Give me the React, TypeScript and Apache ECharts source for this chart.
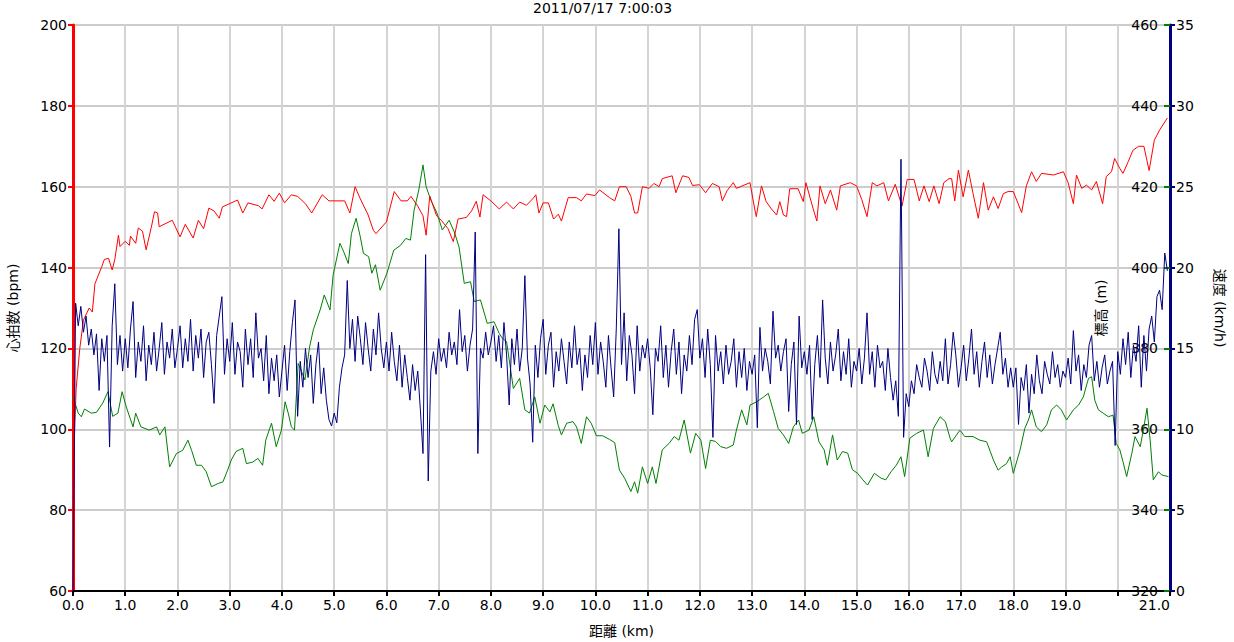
import React, { useEffect, useRef } from "react";
import * as echarts from "echarts";

const title = "2011/07/17 7:00:03";
const xName = "距離 (km)";
const hrName = "心拍数 (bpm)";
const elevName = "標高 (m)";
const speedName = "速度 (km/h)";

// heart rate [km, bpm]
const heartRate: number[][] = [
  [0, 80], [0.02, 95], [0.06, 110], [0.13, 120], [0.2, 127], [0.31, 130], [0.37, 129], [0.42, 136], [0.55, 140.2], [0.6, 142],
  [0.68, 142.3], [0.75, 139.4], [0.8, 142], [0.87, 148], [0.9, 145.2], [1.0, 146.5], [1.08, 145.5], [1.1, 147.8], [1.2, 146], [1.25, 149.8],
  [1.33, 149], [1.4, 144.4], [1.5, 150], [1.56, 153.8], [1.62, 153.5], [1.65, 150.1], [1.9, 151.7], [2.05, 147.6], [2.15, 150.7], [2.3, 147.3],
  [2.4, 151.7], [2.5, 149.6], [2.6, 154.7], [2.7, 154], [2.8, 152.2], [2.86, 155], [3.15, 156.7], [3.25, 153.5], [3.35, 156], [3.55, 155.3],
  [3.62, 154.5], [3.75, 158], [3.85, 156.4], [3.95, 158.4], [4.05, 156], [4.18, 158], [4.3, 157.6], [4.45, 155.8], [4.57, 153.5], [4.77, 158],
  [4.9, 156.5], [5.2, 156.5], [5.3, 153.5], [5.4, 160], [5.5, 157], [5.65, 153], [5.75, 149.2], [5.8, 148.4], [6.0, 151.3], [6.15, 158.8],
  [6.28, 156.5], [6.4, 156.5], [6.47, 157.6], [6.6, 155.2], [6.7, 152.8], [6.76, 148], [6.83, 157.7], [6.96, 152.8], [7.05, 151.7], [7.18, 149.6],
  [7.28, 146.4], [7.37, 152], [7.53, 152.4], [7.63, 154], [7.72, 156.4], [7.79, 152.5], [7.85, 158], [8.0, 156.5], [8.16, 154.5], [8.3, 156.2],
  [8.43, 154.5], [8.55, 156.2], [8.68, 155.4], [8.8, 157], [8.86, 158], [8.92, 153.5], [9.0, 156], [9.1, 156], [9.2, 152], [9.29, 153.2],
  [9.35, 151.5], [9.48, 157.3], [9.64, 157.3], [9.73, 156.5], [9.83, 158.2], [9.99, 157.8], [10.08, 159.2], [10.27, 157.3], [10.37, 156.5], [10.46, 160],
  [10.59, 160], [10.68, 157.6], [10.75, 153.5], [10.81, 153.5], [10.9, 160], [11.03, 159.6], [11.12, 160.8], [11.22, 160], [11.28, 162], [11.47, 162.7],
  [11.54, 158.5], [11.67, 162.7], [11.79, 162.3], [11.86, 160.3], [11.99, 160.5], [12.11, 158.5], [12.24, 160.8], [12.37, 160], [12.43, 156.5], [12.52, 159],
  [12.64, 161], [12.7, 159.6], [12.96, 161], [13.05, 154.5], [13.08, 152.6], [13.18, 160.2], [13.27, 156.3], [13.37, 154.5], [13.47, 153], [13.53, 156.3],
  [13.6, 153], [13.66, 152.6], [13.72, 159.5], [13.88, 159.5], [13.98, 156.3], [14.03, 161], [14.17, 154.5], [14.24, 151.5], [14.3, 160.2], [14.4, 155.8],
  [14.5, 159.2], [14.62, 154.2], [14.69, 160.2], [14.88, 161], [15.0, 160.2], [15.1, 156.8], [15.2, 152.6], [15.3, 161], [15.39, 160.2], [15.52, 161],
  [15.61, 156.5], [15.74, 160.6], [15.87, 155.2], [15.97, 161.8], [16.1, 161.8], [16.2, 156.5], [16.29, 160.2], [16.39, 156.3], [16.48, 160.2], [16.58, 155.8],
  [16.67, 161], [16.77, 162], [16.82, 162], [16.88, 156.5], [16.95, 164.1], [17.04, 157.5], [17.14, 164.1], [17.23, 158.3], [17.33, 152.2], [17.43, 161],
  [17.52, 154.2], [17.62, 157.5], [17.71, 154.6], [17.81, 158.3], [17.9, 158.8], [18.0, 158.8], [18.16, 153.6], [18.25, 160.2], [18.35, 163.7], [18.44, 161.3],
  [18.54, 163.3], [18.77, 162.9], [18.96, 163.7], [19.05, 161], [19.15, 155.8], [19.21, 162.9], [19.31, 159.6], [19.4, 160.4], [19.5, 159.2], [19.59, 161.3],
  [19.71, 155.8], [19.78, 162.5], [19.88, 163.7], [19.94, 167], [20.04, 164.5], [20.1, 163.3], [20.2, 166.2], [20.29, 169], [20.4, 170], [20.5, 170],
  [20.6, 164], [20.7, 171.5], [20.8, 174], [20.9, 176], [20.95, 177],
];

// elevation [km, m]
const elevation: number[][] = [
  [0, 368], [0.1, 364], [0.16, 363.1], [0.22, 365], [0.35, 364], [0.45, 364.2], [0.57, 366.5], [0.67, 369.3], [0.76, 363.2], [0.86, 364],
  [0.94, 369.3], [1.02, 365.5], [1.15, 360.6], [1.2, 364], [1.3, 360.6], [1.46, 359.8], [1.6, 360.6], [1.66, 358.6], [1.76, 360.6], [1.85, 350.7],
  [1.98, 354], [2.1, 354.8], [2.2, 357.3], [2.27, 354.8], [2.36, 351.1], [2.46, 351.1], [2.55, 349.5], [2.65, 345.8], [2.78, 346.6], [2.87, 347],
  [2.96, 349.9], [3.03, 352.4], [3.12, 354.5], [3.25, 355.3], [3.32, 351.5], [3.44, 351.9], [3.54, 352.8], [3.63, 351.1], [3.69, 357.3], [3.8, 361.5],
  [3.89, 355.7], [3.99, 359.8], [4.06, 366.8], [4.12, 364], [4.18, 360.6], [4.24, 359.8], [4.31, 376.3], [4.44, 372.2], [4.53, 380.4], [4.6, 384.6],
  [4.73, 389.5], [4.81, 393.2], [4.92, 389.5], [4.98, 398.2], [5.11, 406], [5.17, 404.3], [5.27, 401], [5.33, 408.4], [5.42, 412.2], [5.5, 407.6],
  [5.56, 403.5], [5.66, 402.7], [5.72, 398.6], [5.79, 400.7], [5.88, 394.4], [6.01, 398.6], [6.14, 404.3], [6.27, 405.5], [6.37, 407.2], [6.46, 406.8],
  [6.53, 414.2], [6.62, 419.2], [6.7, 425.4], [6.76, 420], [6.85, 416.7], [6.97, 413.4], [7.07, 409.3], [7.2, 411.7], [7.3, 408.8], [7.39, 405.1],
  [7.49, 396.1], [7.61, 396.5], [7.68, 391.6], [7.8, 392], [7.93, 386.2], [8.06, 386.6], [8.16, 383.7], [8.22, 382.5], [8.3, 381.7], [8.36, 376.3],
  [8.43, 370.1], [8.55, 372.6], [8.65, 364.8], [8.74, 364], [8.84, 368], [8.94, 361.5], [9.03, 366], [9.13, 364.3], [9.19, 366.3], [9.29, 360.9],
  [9.35, 358.6], [9.45, 361.5], [9.57, 361.9], [9.64, 360.6], [9.73, 356.5], [9.83, 363.1], [9.92, 361.5], [10.02, 358.4], [10.14, 358.4], [10.27, 357.5],
  [10.37, 356.7], [10.46, 349.9], [10.56, 347.9], [10.68, 344.6], [10.75, 347], [10.81, 344.2], [10.9, 350.7], [11.0, 346.6], [11.09, 350.7], [11.16, 346.6],
  [11.28, 354.9], [11.41, 356.5], [11.51, 358.2], [11.6, 357.3], [11.7, 362.3], [11.82, 354.1], [11.92, 359], [12.02, 357.3], [12.11, 350.3], [12.2, 357.3],
  [12.3, 357], [12.4, 355.7], [12.51, 355.3], [12.64, 356.1], [12.7, 359.8], [12.8, 364.8], [12.9, 361.1], [12.96, 366], [13.09, 366.8], [13.22, 368],
  [13.31, 368.9], [13.41, 364.4], [13.5, 360.2], [13.6, 358.6], [13.7, 356.5], [13.79, 360.6], [13.89, 362.3], [13.96, 359], [14.09, 359.8], [14.18, 363.1],
  [14.28, 356.9], [14.38, 354.9], [14.44, 351.1], [14.54, 358.6], [14.63, 352.4], [14.73, 354.5], [14.83, 354.1], [14.92, 350], [15.02, 349.1], [15.12, 347.5],
  [15.21, 346.2], [15.34, 349.1], [15.47, 347.9], [15.56, 347.5], [15.66, 349.5], [15.76, 351.1], [15.85, 353.2], [15.92, 348.3], [16.02, 357.8], [16.15, 359],
  [16.28, 359.8], [16.37, 353.2], [16.47, 360.2], [16.6, 363.1], [16.7, 361.9], [16.79, 357.8], [16.82, 356.9], [16.98, 359.8], [17.07, 358.2], [17.23, 358.2],
  [17.36, 357.3], [17.49, 356.9], [17.62, 352.4], [17.71, 349.9], [17.78, 350.7], [17.87, 351.5], [17.94, 353.2], [18.0, 349.1], [18.13, 354.9], [18.22, 360.2],
  [18.29, 362.3], [18.35, 364.8], [18.44, 360.6], [18.54, 359.4], [18.64, 361.1], [18.73, 364.8], [18.83, 366], [18.92, 364.8], [19.02, 362.3], [19.15, 364.8],
  [19.25, 366], [19.34, 368], [19.44, 372.6], [19.5, 373], [19.56, 367.2], [19.63, 364.8], [19.72, 364], [19.82, 363.1], [19.91, 363.5], [19.97, 356.5],
  [20.04, 354.9], [20.1, 352], [20.17, 348.3], [20.27, 354.1], [20.33, 358.2], [20.43, 355.7], [20.49, 359.8], [20.56, 365.2], [20.62, 357.3], [20.68, 347.5],
  [20.78, 349.5], [20.84, 348.7], [20.97, 348.3],
];

// speed (km/h), sampled every 50 m, one row per km
const speedStepKm = 0.05;
const speedKm00 = [0, 17.8, 16.4, 17.6, 16.0, 17.0, 15.2, 16.2, 14.6, 15.9, 12.4, 15.6, 14.2, 15.8, 8.9, 16.4, 19.0, 14.0, 15.8, 13.6];
const speedKm01 = [15.6, 13.8, 16.2, 17.9, 13.2, 15.4, 14.2, 16.4, 13.0, 15.2, 14.0, 16.0, 13.6, 15.0, 16.6, 13.4, 15.4, 14.4, 16.2, 13.8];
const speedKm02 = [15.0, 16.4, 13.8, 15.6, 14.2, 16.8, 13.6, 15.8, 14.4, 16.2, 13.2, 15.4, 16.0, 14.0, 11.6, 15.8, 17.0, 18.2, 13.4, 15.6];
const speedKm03 = [14.2, 16.6, 13.4, 15.4, 14.8, 12.6, 16.2, 14.0, 15.6, 13.2, 17.2, 14.4, 15.0, 13.0, 15.8, 12.2, 14.4, 13.0, 14.6, 12.0];
const speedKm04 = [13.6, 15.2, 12.4, 14.8, 16.6, 18.0, 10.8, 14.2, 12.6, 15.0, 13.2, 14.6, 11.6, 14.0, 15.4, 12.2, 13.8, 11.8, 10.6, 10.2];
const speedKm05 = [11.0, 10.4, 12.6, 13.8, 14.6, 19.2, 15.0, 16.8, 14.2, 17.0, 15.6, 14.0, 16.6, 15.0, 13.6, 16.2, 14.6, 17.2, 15.0, 13.8];
const speedKm06 = [15.4, 13.6, 16.0, 14.2, 13.0, 15.2, 12.6, 14.6, 13.2, 11.8, 14.0, 12.4, 13.6, 11.2, 8.5, 20.8, 6.8, 13.6, 14.8, 13.4];
const speedKm07 = [15.6, 14.2, 15.0, 13.8, 16.0, 14.6, 15.4, 14.0, 17.4, 14.8, 15.8, 13.6, 15.2, 16.2, 22.2, 8.5, 15.0, 14.4, 16.0, 14.6];
const speedKm08 = [15.4, 16.4, 14.2, 15.8, 13.8, 16.6, 14.6, 11.5, 15.6, 14.0, 16.2, 13.6, 15.0, 19.5, 14.4, 12.8, 9.2, 15.2, 13.2, 15.6];
const speedKm09 = [16.8, 13.4, 15.2, 16.0, 12.6, 14.8, 13.6, 15.6, 14.2, 12.8, 15.4, 13.8, 16.4, 14.0, 15.0, 12.4, 14.6, 13.2, 15.8, 14.0];
const speedKm10 = [16.6, 13.4, 15.4, 14.2, 12.6, 15.8, 13.8, 12.0, 16.2, 22.4, 14.0, 17.2, 13.0, 15.8, 14.6, 12.2, 16.4, 13.6, 15.2, 14.4];
const speedKm11 = [15.6, 13.8, 10.9, 15.0, 14.2, 16.4, 13.2, 15.2, 12.6, 14.8, 16.2, 13.4, 15.4, 12.2, 14.6, 13.6, 15.8, 14.0, 16.8, 17.4];
const speedKm12 = [14.4, 15.6, 13.2, 16.2, 14.0, 9.5, 15.8, 13.6, 14.8, 12.8, 15.2, 13.4, 14.2, 15.6, 12.6, 14.8, 13.2, 15.0, 12.4, 14.2];
const speedKm13 = [13.4, 14.6, 10.1, 16.3, 13.6, 15.0, 14.2, 12.8, 17.3, 14.4, 15.2, 13.6, 14.8, 15.6, 11.1, 14.0, 15.4, 10.3, 17.0, 13.8];
const speedKm14 = [14.8, 13.4, 15.2, 10.6, 14.0, 15.8, 13.2, 18.0, 14.4, 12.8, 15.4, 13.6, 14.6, 16.2, 13.0, 14.8, 13.4, 15.6, 12.6, 14.2];
const speedKm15 = [13.6, 15.0, 12.8, 14.4, 17.2, 13.4, 14.8, 12.6, 15.2, 13.8, 14.2, 12.4, 15.0, 13.2, 11.8, 13.0, 10.8, 26.7, 9.5, 12.2];
const speedKm16 = [11.4, 13.0, 12.2, 14.0, 13.2, 12.6, 14.4, 13.6, 12.4, 14.8, 13.4, 12.8, 14.2, 13.0, 15.6, 12.8, 14.0, 16.0, 14.6, 12.6];
const speedKm17 = [13.8, 15.2, 13.0, 14.4, 16.2, 13.4, 14.8, 12.6, 14.2, 15.4, 13.2, 14.6, 12.8, 14.0, 15.0, 16.0, 13.4, 14.4, 12.6, 13.8];
const speedKm18 = [12.6, 13.8, 10.3, 13.2, 12.4, 14.0, 11.0, 13.4, 12.2, 14.6, 13.0, 12.2, 14.2, 13.4, 12.8, 14.8, 13.2, 14.0, 12.6, 13.6];
const speedKm19 = [13.2, 14.4, 12.8, 16.1, 13.6, 14.6, 12.4, 14.0, 13.2, 15.2, 15.8, 13.0, 14.2, 12.6, 13.8, 14.6, 12.8, 13.6, 14.2, 9.0];
const speedKm20 = [14.8, 13.4, 15.6, 14.0, 16.0, 13.2, 15.2, 14.2, 16.4, 12.6, 15.8, 13.6, 16.2, 17.0, 15.4, 18.2, 18.6, 17.4, 20.9, 19.8];

const speedValues = [
  ...speedKm00, ...speedKm01, ...speedKm02, ...speedKm03, ...speedKm04, ...speedKm05, ...speedKm06,
  ...speedKm07, ...speedKm08, ...speedKm09, ...speedKm10, ...speedKm11, ...speedKm12, ...speedKm13,
  ...speedKm14, ...speedKm15, ...speedKm16, ...speedKm17, ...speedKm18, ...speedKm19, ...speedKm20,
];

const FONT = "'DejaVu Sans', 'Noto Sans CJK JP', sans-serif";

export default function App() {
  const ref = useRef<HTMLDivElement>(null);
  useEffect(() => {
    if (!ref.current) return;
    const chart = echarts.init(ref.current, undefined, { renderer: "svg" });
    const speedData = speedValues.map((v, i) => [+(i * speedStepKm).toFixed(2), v]);
    const labelStyle = { color: "#000", fontSize: 14, fontFamily: FONT };
    chart.setOption({
      animation: false,
      backgroundColor: "#fff",
      textStyle: { fontFamily: FONT },
      title: {
        text: title,
        left: 533,
        top: 0,
        padding: [1, 0, 0, 0],
        textStyle: { fontSize: 14, fontWeight: "normal", color: "#000", fontFamily: FONT },
      },
      grid: { left: 73, right: 64, top: 25, bottom: 51, containLabel: false, outerBoundsMode: "none" },
      xAxis: {
        type: "value",
        min: 0,
        max: 21,
        interval: 1,
        name: xName,
        nameLocation: "middle",
        nameGap: 33,
        nameTextStyle: labelStyle,
        axisLine: { show: true, lineStyle: { color: "#000", width: 2 } },
        axisTick: { show: true, length: 5, lineStyle: { color: "#000", width: 2 } },
        axisLabel: {
          ...labelStyle,
          margin: 7,
          alignMaxLabel: "right",
          formatter: (v: number) => (v === 20 ? "" : v.toFixed(1)),
        },
        splitLine: { show: true, lineStyle: { color: "#d4d4d4", width: 2 } },
      },
      yAxis: [
        {
          type: "value",
          position: "left",
          min: 60,
          max: 200,
          interval: 20,
          name: hrName,
          nameLocation: "middle",
          nameRotate: 90,
          nameGap: 53,
          nameTextStyle: labelStyle,
          axisLine: { show: true, lineStyle: { color: "#ff0000", width: 3 } },
          axisTick: { show: true, length: 5, lineStyle: { color: "#ff0000", width: 2 } },
          axisLabel: { ...labelStyle, margin: 6 },
          splitLine: { show: true, lineStyle: { color: "#cccccc", width: 2 } },
        },
        {
          type: "value",
          position: "right",
          min: 320,
          max: 460,
          interval: 20,
          name: elevName,
          nameLocation: "middle",
          nameRotate: 90,
          nameGap: -76,
          nameTextStyle: labelStyle,
          axisLine: { show: false },
          axisTick: { show: true, inside: true, length: 6, lineStyle: { color: "#008000", width: 2 } },
          axisLabel: { ...labelStyle, inside: true, margin: 12 },
          splitLine: { show: false },
        },
        {
          type: "value",
          position: "right",
          min: 0,
          max: 35,
          interval: 5,
          name: speedName,
          nameLocation: "middle",
          nameRotate: -90,
          nameGap: 43,
          nameTextStyle: labelStyle,
          axisLine: { show: true, lineStyle: { color: "#000080", width: 3 } },
          axisTick: { show: true, length: 5, lineStyle: { color: "#000080", width: 2 } },
          axisLabel: { ...labelStyle, margin: 6 },
          splitLine: { show: false },
        },
      ],
      series: [
        {
          name: elevName,
          type: "line",
          yAxisIndex: 1,
          data: elevation,
          showSymbol: false,
          lineStyle: { color: "#008000", width: 1 },
          itemStyle: { color: "#008000" },
        },
        {
          name: hrName,
          type: "line",
          yAxisIndex: 0,
          data: heartRate,
          showSymbol: false,
          lineStyle: { color: "#ff0000", width: 1 },
          itemStyle: { color: "#ff0000" },
        },
        {
          name: speedName,
          type: "line",
          yAxisIndex: 2,
          data: speedData,
          showSymbol: false,
          lineStyle: { color: "#000080", width: 1 },
          itemStyle: { color: "#000080" },
        },
      ],
    });
    return () => chart.dispose();
  }, []);
  return (
    <div
      ref={ref}
      style={{ position: "fixed", left: 0, top: 0, width: 1234, height: 642, background: "#fff" }}
    />
  );
}
